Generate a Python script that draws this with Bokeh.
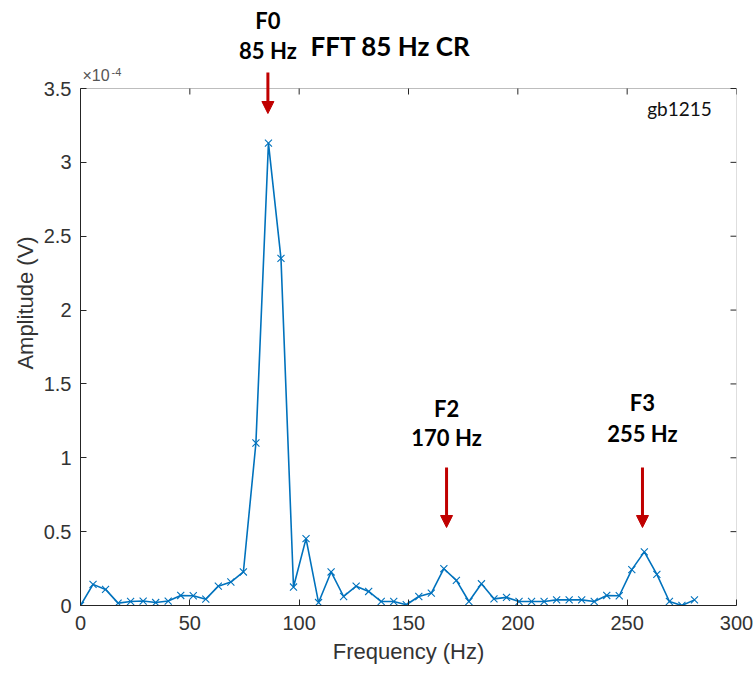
from bokeh.plotting import figure
from bokeh.models import (ColumnDataSource, LinearAxis, Range1d, Label, Arrow,
                          NormalHead, FixedTicker, BoxAnnotation)
from bokeh.embed import file_html
from bokeh.resources import INLINE

# Frequency bins (Hz)
freq = [0.0, 5.73, 11.46, 17.19, 22.92, 28.65, 34.38, 40.11, 45.84, 51.57,
        57.3, 63.03, 68.76, 74.49, 80.22, 85.95, 91.68, 97.41, 103.14, 108.87,
        114.6, 120.33, 126.06, 131.79, 137.52, 143.25, 148.98, 154.71, 160.44, 166.17,
        171.9, 177.63, 183.36, 189.09, 194.82, 200.55, 206.28, 212.01, 217.74, 223.47,
        229.2, 234.93, 240.66, 246.39, 252.12, 257.85, 263.58, 269.31, 275.04, 280.77]
# Amplitude in units of 1e-4 V
amp = [0.0, 0.143, 0.109, 0.016, 0.027, 0.030, 0.020, 0.030, 0.068, 0.066,
       0.043, 0.131, 0.159, 0.227, 1.10, 3.13, 2.35, 0.125, 0.453, 0.020,
       0.227, 0.061, 0.131, 0.095, 0.027, 0.027, 0.005, 0.061, 0.084, 0.249,
       0.170, 0.027, 0.147, 0.045, 0.055, 0.027, 0.027, 0.027, 0.038, 0.038,
       0.038, 0.027, 0.068, 0.066, 0.243, 0.363, 0.211, 0.027, 0.0, 0.038]

x_ticks = [0, 50, 100, 150, 200, 250, 300]
y_ticks = [0, 0.5, 1, 1.5, 2, 2.5, 3, 3.5]
x_max = 300
y_max = 3.5

harm_names = ["F0", "F2", "F3"]
harm_labels = ["85 Hz", "170 Hz", "255 Hz"]
harm_arrow_x = [85.7, 167.4, 257.0]

title_text = "FFT 85 Hz CR"
tag_text = "gb1215"

AX = "#262626"
BLUE = "#0072BD"
RED = "#C00000"

# layout (pixels)
W, H = 756, 675
LEFT, RIGHT, BOTTOM = 80, 20, 70
BOX_TOP = 88
frame_h = H - BOTTOM
box_h = frame_h - BOX_TOP
px_per_y = box_h / y_max
px_per_x = (W - LEFT - RIGHT) / x_max
y_top = frame_h / px_per_y  # data value at top of canvas


def ydat(px):
    return (frame_h - px) / px_per_y


p = figure(width=W, height=H, output_backend="svg", toolbar_location=None,
           title=None,
           x_range=Range1d(0, x_max), y_range=Range1d(0, y_top),
           min_border_left=LEFT, min_border_right=RIGHT, min_border_top=0,
           min_border_bottom=BOTTOM, x_axis_location=None, y_axis_location=None)
p.grid.visible = False
p.outline_line_color = None
p.background_fill_color = "white"
p.border_fill_color = "white"


def style_axis(ax):
    ax.axis_line_color = AX
    ax.axis_line_width = 1
    ax.major_tick_line_color = AX
    ax.major_tick_in = 6
    ax.major_tick_out = 0
    ax.minor_tick_line_color = None
    ax.major_label_text_font = "Liberation Sans"
    ax.major_label_text_font_size = "20px"
    ax.major_label_text_color = "#333333"
    ax.axis_label_text_font = "Liberation Sans"
    ax.axis_label_text_font_style = "normal"
    ax.axis_label_text_font_size = "22px"
    ax.axis_label_text_color = "#333333"


xb = LinearAxis(ticker=FixedTicker(ticks=x_ticks), axis_label="Frequency (Hz)")
style_axis(xb)
xb.major_label_standoff = 10
xb.axis_label_standoff = 6
p.add_layout(xb, "below")

yl = LinearAxis(ticker=FixedTicker(ticks=y_ticks), axis_label="Amplitude (V)",
                bounds=(0, y_max))
style_axis(yl)
yl.major_label_standoff = 9
yl.axis_label_standoff = 3
p.add_layout(yl, "left")

# axes box (top and right edges) with inward ticks
p.add_layout(BoxAnnotation(left=0, right=x_max, bottom=0, top=y_max,
                           fill_color=None, line_color=AX, line_width=1))
tick_dx = 6 / px_per_x
tick_dy = 6 / px_per_y
p.segment(x0=x_ticks, y0=[y_max] * len(x_ticks), x1=x_ticks,
          y1=[y_max - tick_dy] * len(x_ticks), line_color=AX, line_width=1)
p.segment(x0=[x_max] * len(y_ticks), y0=y_ticks, x1=[x_max - tick_dx] * len(y_ticks),
          y1=y_ticks, line_color=AX, line_width=1)

src = ColumnDataSource(data=dict(f=freq, a=amp))
p.line("f", "a", source=src, line_color=BLUE, line_width=1.6)
p.scatter("f", "a", source=src, marker="x", size=10, line_color=BLUE, line_width=1.1)

# exponent label
p.add_layout(Label(x=0, y=y_max, text="×10", x_offset=2, y_offset=5,
                   text_font="Liberation Sans", text_font_size="16px",
                   text_color="#555555", text_baseline="bottom"))
p.add_layout(Label(x=0, y=y_max, text="-4", x_offset=31, y_offset=13,
                   text_font="Liberation Sans", text_font_size="11px",
                   text_color="#555555", text_baseline="bottom"))

# harmonic labels and arrows
name_y = [20, 408, 402]
lab_y = [50, 437, 433]
arr_top = [72, 467, 467]
arr_tip = [113, 527, 527]
for i in range(3):
    p.add_layout(Label(x=harm_arrow_x[i], y=ydat(name_y[i]), text=harm_names[i],
                       text_align="center", text_baseline="middle",
                       text_font="Lato", text_font_style="bold",
                       text_font_size="22px", text_color="black"))
    p.add_layout(Label(x=harm_arrow_x[i], y=ydat(lab_y[i]), text=harm_labels[i],
                       text_align="center", text_baseline="middle",
                       text_font="Lato", text_font_style="bold",
                       text_font_size="22px", text_color="black"))
    p.add_layout(Arrow(x_start=harm_arrow_x[i], y_start=ydat(arr_top[i]),
                       x_end=harm_arrow_x[i], y_end=ydat(arr_tip[i]),
                       line_color=RED, line_width=3,
                       end=NormalHead(size=12, fill_color=RED, line_color=RED)))

p.add_layout(Label(x=(390 - LEFT) / px_per_x, y=ydat(45), text=title_text,
                   text_align="center", text_baseline="middle", text_font="Lato",
                   text_font_style="bold", text_font_size="26px", text_color="black"))
p.add_layout(Label(x=(679 - LEFT) / px_per_x, y=ydat(108), text=tag_text,
                   text_align="center", text_baseline="middle", text_font="Lato",
                   text_font_size="19px", text_color="#111111"))

open("out.html", "w").write(file_html(p, INLINE))
